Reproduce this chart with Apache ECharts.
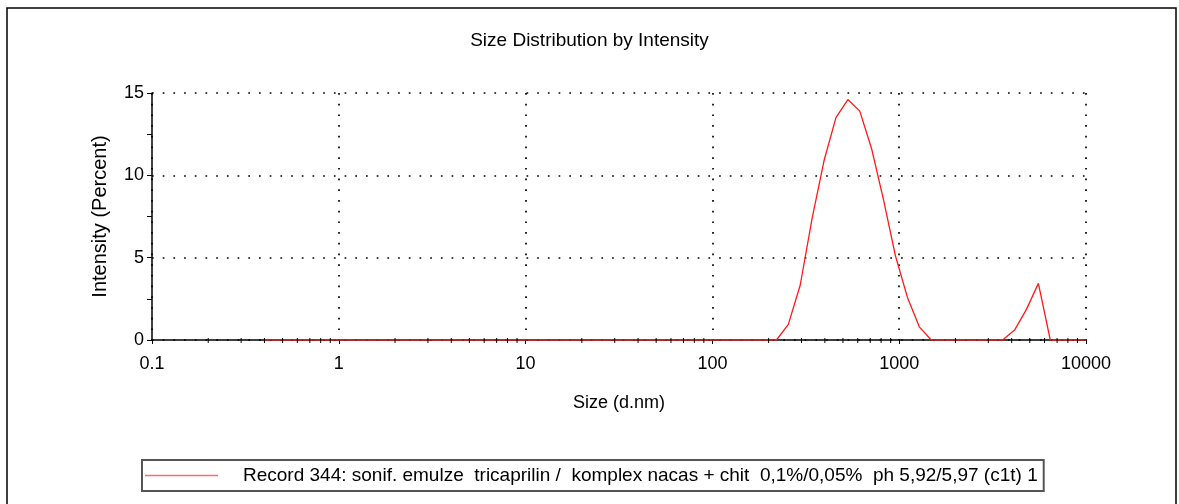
<!DOCTYPE html>
<html>
<head>
<meta charset="utf-8">
<title>Size Distribution by Intensity</title>
<script src="https://cdn.jsdelivr.net/npm/echarts@6/dist/echarts.min.js"></script>
<style>
  html, body { margin: 0; padding: 0; background: #fff; }
  #chart { width: 1179px; height: 504px; }
</style>
</head>
<body>
<div id="chart"></div>
<script>
// Size classes of the distribution (d.nm), logarithmically spaced
const sizes = [
  0.4, 0.4632, 0.5365, 0.6213, 0.7195, 0.8332, 0.9649,
  1.117, 1.294, 1.499, 1.736, 2.010, 2.328, 2.696, 3.122, 3.615, 4.187, 4.849, 5.615, 6.503, 7.531, 8.721,
  10.10, 11.70, 13.54, 15.69, 18.17, 21.04, 24.36, 28.21, 32.67, 37.84, 43.82, 50.75, 58.77, 68.06, 78.82, 91.28,
  105.7, 122.4, 141.8, 164.2, 190.1, 220.2, 255.0, 295.3, 342.0, 396.1, 458.7, 531.2, 615.1, 712.4, 825.0, 955.4,
  1106, 1281, 1484, 1718, 1990, 2305, 2669, 3091, 3580, 4145, 4801, 5560, 6439, 7456, 8635, 10000
];

// Intensity (%) in each size class
const intensity = [
  0, 0, 0, 0, 0, 0, 0,
  0, 0, 0, 0, 0, 0, 0, 0, 0, 0, 0, 0, 0, 0, 0,
  0, 0, 0, 0, 0, 0, 0, 0, 0, 0, 0, 0, 0, 0, 0, 0,
  0, 0, 0, 0, 0, 0, 0.95, 3.34, 7.4, 10.9, 13.5, 14.6, 13.9, 11.6, 8.5, 5.1,
  2.6, 0.8, 0, 0, 0, 0, 0, 0, 0, 0.6, 1.86, 3.44, 0, 0, 0, 0
];

const seriesName = 'Record 344: sonif. emulze  tricaprilin /  komplex nacas + chit  0,1%/0,05%  ph 5,92/5,97 (c1t) 1';
const xTickLabels = ['0.1', '1', '10', '100', '1000', '10000'];
const decades = [0.1, 1, 10, 100, 1000];
const minorSteps = [2, 3, 4, 5, 6, 7, 8, 9];

const FONT = '"Liberation Sans", Arial, Helvetica, sans-serif';

// intermediate tick positions on the logarithmic size axis
const minorTicks = [];
decades.forEach(d => minorSteps.forEach(k => minorTicks.push([+(d * k).toPrecision(6), 0])));

const lineData = sizes.map((s, i) => [s, intensity[i]]);

const chart = echarts.init(document.getElementById('chart'), null, { renderer: 'canvas' });

chart.setOption({
  backgroundColor: '#fff',
  animation: false,
  graphic: [{
    type: 'rect',
    z: -10,
    shape: { x: 7, y: 8, width: 1169, height: 540 },
    style: { fill: 'none', stroke: '#000', lineWidth: 1.5 }
  }],
  title: {
    text: 'Size Distribution by Intensity',
    left: 'center',
    top: 31,
    padding: 0,
    textStyle: { fontFamily: FONT, fontSize: 19, fontWeight: 'normal', color: '#000' }
  },
  grid: { left: 152, right: 93, top: 93, bottom: 164, containLabel: false },
  xAxis: {
    type: 'log',
    logBase: 10,
    min: 0.1,
    max: 10000,
    name: 'Size (d.nm)',
    nameLocation: 'middle',
    nameGap: 54,
    nameTextStyle: { fontFamily: FONT, fontSize: 18, color: '#000' },
    axisLine: { show: true, lineStyle: { color: '#000', width: 1.5 } },
    axisTick: { show: true, length: 4, lineStyle: { color: '#000', width: 1 } },
    axisLabel: {
      fontFamily: FONT, fontSize: 18, color: '#000', margin: 15,
      formatter: v => {
        const idx = Math.round(Math.log10(v)) + 1;
        return xTickLabels[idx] !== undefined ? xTickLabels[idx] : '';
      }
    },
    splitLine: { show: true, lineStyle: { color: '#000', width: 1.7, type: [1.7, 9] } }
  },
  yAxis: {
    type: 'value',
    min: 0,
    max: 15,
    interval: 5,
    name: 'Intensity (Percent)',
    nameLocation: 'middle',
    nameGap: 42,
    nameTextStyle: { fontFamily: FONT, fontSize: 20, color: '#000' },
    axisLine: { show: true, lineStyle: { color: '#000', width: 1.5 } },
    axisTick: { show: true, length: 5, lineStyle: { color: '#000', width: 1 } },
    minorTick: { show: true, splitNumber: 2, length: 5, lineStyle: { color: '#000', width: 1 } },
    axisLabel: { fontFamily: FONT, fontSize: 18, color: '#000', margin: 8 },
    splitLine: { show: true, lineStyle: { color: '#000', width: 1.7, type: [1.7, 9] } }
  },
  legend: {
    data: [{ name: seriesName, icon: 'rect' }],
    left: 142,
    top: 460,
    orient: 'horizontal',
    padding: [6, 6, 6, 3],
    itemWidth: 73,
    itemHeight: 1.5,
    borderColor: '#555',
    borderWidth: 2,
    selectedMode: false,
    textStyle: {
      fontFamily: FONT, fontSize: 19, color: '#000',
      width: 794, overflow: 'none', lineHeight: 19,
      padding: [0, 0, 0, 20]
    }
  },
  series: [
    {
      name: seriesName,
      type: 'line',
      data: lineData,
      showSymbol: false,
      symbol: 'none',
      lineStyle: { color: '#ff1a1a', width: 1.3 },
      itemStyle: { color: '#ff6b6b' },
      z: 5
    },
    {
      name: 'minor-ticks',
      type: 'custom',
      data: minorTicks,
      clip: false,
      silent: true,
      z: 6,
      renderItem: (params, api) => {
        const p = api.coord([api.value(0), 0]);
        return {
          type: 'line',
          shape: { x1: p[0], y1: p[1] - 2, x2: p[0], y2: p[1] + 3 },
          style: { stroke: '#000', lineWidth: 1 }
        };
      }
    }
  ]
});
</script>
</body>
</html>
